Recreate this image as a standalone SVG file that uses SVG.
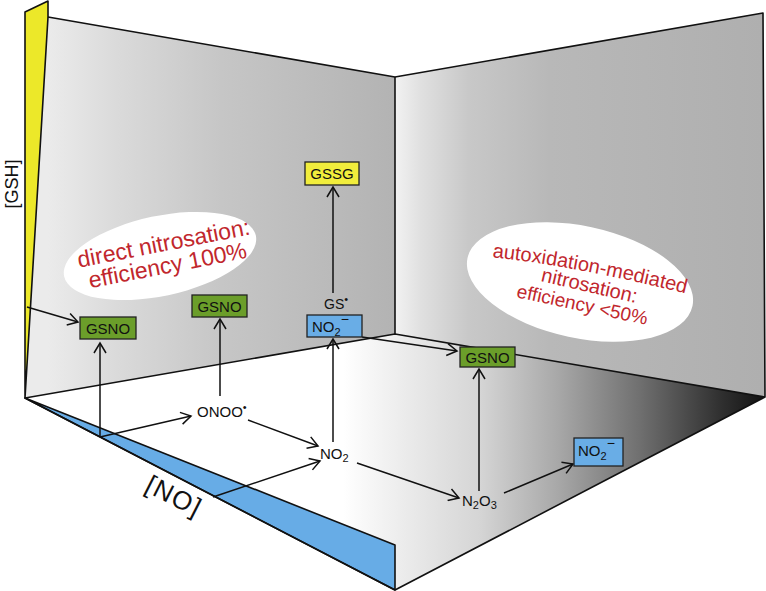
<svg xmlns="http://www.w3.org/2000/svg" width="766" height="591" viewBox="0 0 766 591">
<defs>
<linearGradient id="gLeft" gradientUnits="userSpaceOnUse" x1="48" y1="0" x2="395" y2="0">
<stop offset="0" stop-color="#ebebeb"/><stop offset="0.2" stop-color="#dadada"/><stop offset="0.5" stop-color="#c6c6c6"/><stop offset="1" stop-color="#b3b3b3"/>
</linearGradient>
<linearGradient id="gRight" gradientUnits="userSpaceOnUse" x1="395" y1="0" x2="763" y2="0">
<stop offset="0" stop-color="#f2f2f2"/><stop offset="0.07" stop-color="#e0e0e0"/><stop offset="0.2" stop-color="#c8c8c8"/><stop offset="0.42" stop-color="#b8b8b8"/><stop offset="1" stop-color="#afafaf"/>
</linearGradient>
<linearGradient id="gFloor" gradientUnits="userSpaceOnUse" x1="25" y1="0" x2="765" y2="0">
<stop offset="0" stop-color="#ffffff"/><stop offset="0.43" stop-color="#ffffff"/><stop offset="0.51" stop-color="#ececec"/><stop offset="0.615" stop-color="#d5d5d5"/><stop offset="0.72" stop-color="#a8a8a8"/><stop offset="0.83" stop-color="#707070"/><stop offset="0.94" stop-color="#303030"/><stop offset="1" stop-color="#111111"/>
</linearGradient>
<marker id="arr" markerUnits="userSpaceOnUse" markerWidth="14" markerHeight="14" refX="12" refY="7" orient="auto">
<path d="M2,1 L12,7 L2,13" fill="none" stroke="#111" stroke-width="1.5"/>
</marker>
<path id="arcTxt" d="M490,257 Q571,265 688,294"/>
</defs>
<style>
.edge{stroke:#111;stroke-width:1.6;stroke-linejoin:round}
.line{fill:none}
.con{stroke:#111;stroke-width:1.5;fill:none;marker-end:url(#arr)}
.box{stroke:#222;stroke-width:1.3}
.green{fill:#6b9e2a}
.blue{fill:#69ade6}
.yel{fill:#f1ed3c}
.t{font-family:"Liberation Sans",Arial,sans-serif;fill:#111}
.red{font-family:"Liberation Sans",Arial,sans-serif;fill:#c1272d}
</style>
<g id="scene">
<polygon points="25,398 395,334 765,397 395,590" fill="url(#gFloor)"/>
<polygon points="48,17 395,77 395,334 25,398" fill="url(#gLeft)"/>
<polygon points="395,77 763,13 765,397 395,334" fill="url(#gRight)"/>
<polygon points="25,12 48,1 48,17 25,398" fill="#ece829" class="edge"/>
<polygon points="25,398 395,545 395,590" fill="#67ace6" class="edge"/>
<polyline class="edge line" points="48,17 395,77 763,13 765,397 395,590 25,398 395,334 765,397"/>
<line class="edge" x1="395" y1="77" x2="395" y2="334"/>
<ellipse cx="160" cy="256" rx="98" ry="40" transform="rotate(-12 160 256)" fill="#fff"/>
<ellipse cx="580" cy="282" rx="115" ry="56" transform="rotate(12 580 282)" fill="#fff"/>
<text class="red" font-size="23" text-anchor="middle" transform="translate(165,251) rotate(-11)">direct nitrosation:</text>
<text class="red" font-size="23" text-anchor="middle" transform="translate(169,273) rotate(-11)">efficiency 100%</text>
<text class="red" font-size="20"><textPath href="#arcTxt" startOffset="50%" text-anchor="middle">autoxidation-mediated</textPath></text>
<text class="red" font-size="20" text-anchor="middle" transform="translate(588,292) rotate(13)">nitrosation:</text>
<text class="red" font-size="19" text-anchor="middle" transform="translate(581,311) rotate(12)">efficiency &lt;50%</text>
<text class="t" font-size="18" text-anchor="middle" transform="translate(18,184) rotate(-90)">[GSH]</text>
<text class="t" font-size="26" letter-spacing="1.5" text-anchor="middle" transform="translate(170,504) rotate(27)">[NO]</text>
</g>
<g id="connectors">
<line class="con" x1="27" y1="307" x2="78" y2="322"/>
<line class="con" x1="100" y1="437" x2="100" y2="343"/>
<line class="con" x1="100" y1="437" x2="191" y2="416"/>
<line class="con" x1="220" y1="396" x2="220" y2="319"/>
<line class="con" x1="248" y1="420" x2="318" y2="446"/>
<line class="con" x1="213" y1="497" x2="320" y2="461"/>
<line class="con" x1="333" y1="442" x2="333" y2="339"/>
<line class="con" x1="333" y1="293" x2="333" y2="187"/>
<line class="con" x1="357" y1="463" x2="459" y2="498"/>
<line class="con" x1="479" y1="491" x2="479" y2="369"/>
<line class="con" x1="504" y1="493" x2="573" y2="464"/>
<line class="con" x1="362" y1="337" x2="457" y2="351"/>
</g>
<g id="n-gssg"><rect class="box yel" x="305" y="162" width="54" height="23"/><text class="t" font-size="15" x="332" y="179" text-anchor="middle">GSSG</text></g>
<g id="n-gsno1"><rect class="box green" x="80" y="317" width="56" height="22"/><text class="t" font-size="15" x="108" y="334" text-anchor="middle">GSNO</text></g>
<g id="n-gsno2"><rect class="box green" x="192" y="295" width="55" height="22"/><text class="t" font-size="15" x="219.5" y="312" text-anchor="middle">GSNO</text></g>
<g id="n-gsno3"><rect class="box green" x="460" y="347" width="55" height="20"/><text class="t" font-size="15" x="487.5" y="363" text-anchor="middle">GSNO</text></g>
<g id="n-no2m1"><rect class="box blue" x="307" y="315" width="55" height="22"/><text class="t" font-size="15" x="312" y="332">NO<tspan font-size="11" dy="4">2</tspan><tspan dy="-12" font-size="14">−</tspan></text></g>
<g id="n-no2m2"><rect class="box blue" x="574" y="438" width="49" height="28"/><text class="t" font-size="15" x="578" y="456">NO<tspan font-size="11" dy="4">2</tspan><tspan dy="-12" font-size="14">−</tspan></text></g>
<g id="n-gs"><text class="t" font-size="14" x="324" y="309">GS<tspan font-size="11" dy="-6">•</tspan></text></g>
<g id="n-onoo"><text class="t" font-size="15" x="197" y="417">ONOO<tspan font-size="11" dy="-6">•</tspan></text></g>
<g id="n-no2"><text class="t" font-size="15" x="320" y="459">NO<tspan font-size="11" dy="3">2</tspan></text></g>
<g id="n-n2o3"><text class="t" font-size="15" x="462" y="506">N<tspan font-size="11" dy="3">2</tspan><tspan dy="-3">O</tspan><tspan font-size="11" dy="3">3</tspan></text></g>
</svg>
